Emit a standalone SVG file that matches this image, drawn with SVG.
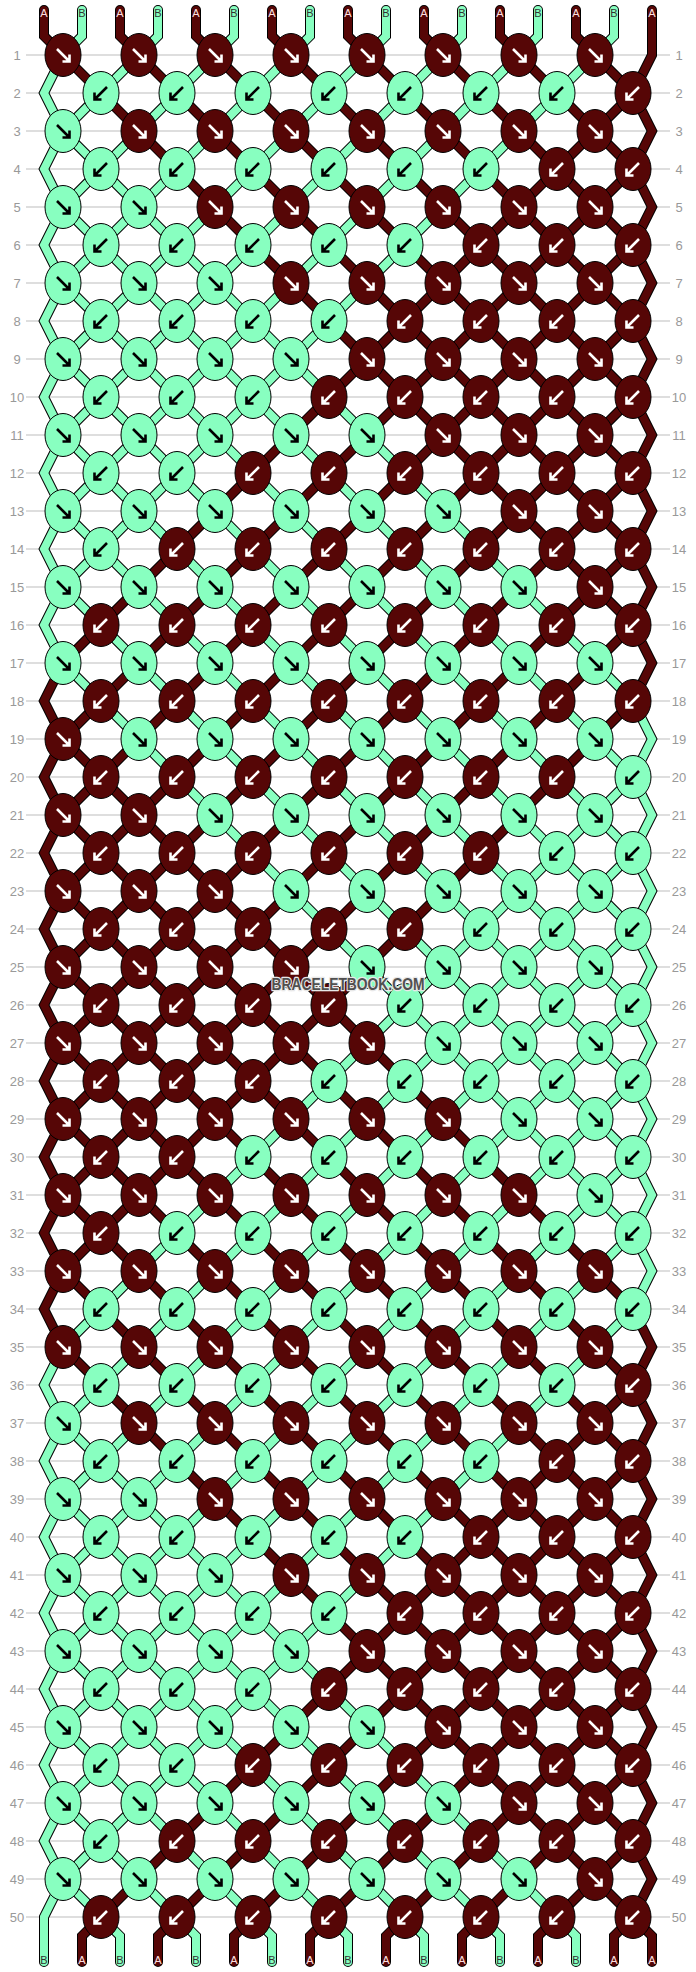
<svg xmlns="http://www.w3.org/2000/svg" xmlns:xlink="http://www.w3.org/1999/xlink" width="696" height="1972" viewBox="0 0 696 1972">
<style>
.o{fill:none;stroke:#000;stroke-width:10;stroke-linecap:round;stroke-linejoin:miter}
.a{fill:none;stroke:#560606;stroke-width:8;stroke-linecap:round;stroke-linejoin:miter}
.b{fill:none;stroke:#88ffc0;stroke-width:8;stroke-linecap:round;stroke-linejoin:miter}
.rl{font-family:"Liberation Sans",Arial,sans-serif;font-size:13px;fill:#999;text-anchor:middle}
.sl{font-family:"Liberation Sans",Arial,sans-serif;font-size:11px;text-anchor:middle}
.la{fill:#ffe0e0}
.lb{fill:#333}
.ar{fill:none;stroke-width:2.6;stroke-linecap:butt;stroke-linejoin:miter}
</style>
<defs>
<g id="fd"><ellipse rx="18" ry="21.5" fill="#560606" stroke="#000" stroke-width="1"/><path class="ar" stroke="#fff" d="M-6,-6L6,6M6.5,-0.5V6.5H-0.5"/></g>
<g id="fg"><ellipse rx="18" ry="21.5" fill="#88ffc0" stroke="#000" stroke-width="1"/><path class="ar" stroke="#000" d="M-6,-6L6,6M6.5,-0.5V6.5H-0.5"/></g>
<g id="bd"><ellipse rx="18" ry="21.5" fill="#560606" stroke="#000" stroke-width="1"/><path class="ar" stroke="#fff" d="M6,-6L-6,6M-6.5,-0.5V6.5H0.5"/></g>
<g id="bg"><ellipse rx="18" ry="21.5" fill="#88ffc0" stroke="#000" stroke-width="1"/><path class="ar" stroke="#000" d="M6,-6L-6,6M-6.5,-0.5V6.5H0.5"/></g>
</defs>
<rect width="696" height="1972" fill="#fff"/>
<g id="gridlines">
<path fill="none" stroke="#bdbdbd" stroke-width="1" d="M26,55H670M26,93H670M26,131H670M26,169H670M26,207H670M26,245H670M26,283H670M26,321H670M26,359H670M26,397H670M26,435H670M26,473H670M26,511H670M26,549H670M26,587H670M26,625H670M26,663H670M26,701H670M26,739H670M26,777H670M26,815H670M26,853H670M26,891H670M26,929H670M26,967H670M26,1005H670M26,1043H670M26,1081H670M26,1119H670M26,1157H670M26,1195H670M26,1233H670M26,1271H670M26,1309H670M26,1347H670M26,1385H670M26,1423H670M26,1461H670M26,1499H670M26,1537H670M26,1575H670M26,1613H670M26,1651H670M26,1689H670M26,1727H670M26,1765H670M26,1803H670M26,1841H670M26,1879H670M26,1917H670"/>
</g>
<g id="row-labels" class="rl">
<text x="17" y="59.5">1</text><text x="679" y="59.5">1</text>
<text x="17" y="97.5">2</text><text x="679" y="97.5">2</text>
<text x="17" y="135.5">3</text><text x="679" y="135.5">3</text>
<text x="17" y="173.5">4</text><text x="679" y="173.5">4</text>
<text x="17" y="211.5">5</text><text x="679" y="211.5">5</text>
<text x="17" y="249.5">6</text><text x="679" y="249.5">6</text>
<text x="17" y="287.5">7</text><text x="679" y="287.5">7</text>
<text x="17" y="325.5">8</text><text x="679" y="325.5">8</text>
<text x="17" y="363.5">9</text><text x="679" y="363.5">9</text>
<text x="17" y="401.5">10</text><text x="679" y="401.5">10</text>
<text x="17" y="439.5">11</text><text x="679" y="439.5">11</text>
<text x="17" y="477.5">12</text><text x="679" y="477.5">12</text>
<text x="17" y="515.5">13</text><text x="679" y="515.5">13</text>
<text x="17" y="553.5">14</text><text x="679" y="553.5">14</text>
<text x="17" y="591.5">15</text><text x="679" y="591.5">15</text>
<text x="17" y="629.5">16</text><text x="679" y="629.5">16</text>
<text x="17" y="667.5">17</text><text x="679" y="667.5">17</text>
<text x="17" y="705.5">18</text><text x="679" y="705.5">18</text>
<text x="17" y="743.5">19</text><text x="679" y="743.5">19</text>
<text x="17" y="781.5">20</text><text x="679" y="781.5">20</text>
<text x="17" y="819.5">21</text><text x="679" y="819.5">21</text>
<text x="17" y="857.5">22</text><text x="679" y="857.5">22</text>
<text x="17" y="895.5">23</text><text x="679" y="895.5">23</text>
<text x="17" y="933.5">24</text><text x="679" y="933.5">24</text>
<text x="17" y="971.5">25</text><text x="679" y="971.5">25</text>
<text x="17" y="1009.5">26</text><text x="679" y="1009.5">26</text>
<text x="17" y="1047.5">27</text><text x="679" y="1047.5">27</text>
<text x="17" y="1085.5">28</text><text x="679" y="1085.5">28</text>
<text x="17" y="1123.5">29</text><text x="679" y="1123.5">29</text>
<text x="17" y="1161.5">30</text><text x="679" y="1161.5">30</text>
<text x="17" y="1199.5">31</text><text x="679" y="1199.5">31</text>
<text x="17" y="1237.5">32</text><text x="679" y="1237.5">32</text>
<text x="17" y="1275.5">33</text><text x="679" y="1275.5">33</text>
<text x="17" y="1313.5">34</text><text x="679" y="1313.5">34</text>
<text x="17" y="1351.5">35</text><text x="679" y="1351.5">35</text>
<text x="17" y="1389.5">36</text><text x="679" y="1389.5">36</text>
<text x="17" y="1427.5">37</text><text x="679" y="1427.5">37</text>
<text x="17" y="1465.5">38</text><text x="679" y="1465.5">38</text>
<text x="17" y="1503.5">39</text><text x="679" y="1503.5">39</text>
<text x="17" y="1541.5">40</text><text x="679" y="1541.5">40</text>
<text x="17" y="1579.5">41</text><text x="679" y="1579.5">41</text>
<text x="17" y="1617.5">42</text><text x="679" y="1617.5">42</text>
<text x="17" y="1655.5">43</text><text x="679" y="1655.5">43</text>
<text x="17" y="1693.5">44</text><text x="679" y="1693.5">44</text>
<text x="17" y="1731.5">45</text><text x="679" y="1731.5">45</text>
<text x="17" y="1769.5">46</text><text x="679" y="1769.5">46</text>
<text x="17" y="1807.5">47</text><text x="679" y="1807.5">47</text>
<text x="17" y="1845.5">48</text><text x="679" y="1845.5">48</text>
<text x="17" y="1883.5">49</text><text x="679" y="1883.5">49</text>
<text x="17" y="1921.5">50</text><text x="679" y="1921.5">50</text>
</g>
<g id="connectors">
<g id="outlines" class="o">
<path d="M44,10V36L633,625L652,663L633,701L63,1271L44,1309L63,1347L633,1917L652,1936V1962"/>
<path d="M120,10V36L633,549L652,587L633,625L63,1195L44,1233L63,1271L633,1841L652,1879L633,1917L614,1936V1962"/>
<path d="M196,10V36L633,473L652,511L633,549L63,1119L44,1157L63,1195L633,1765L652,1803L633,1841L538,1936V1962"/>
<path d="M272,10V36L633,397L652,435L633,473L63,1043L44,1081L63,1119L633,1689L652,1727L633,1765L462,1936V1962"/>
<path d="M348,10V36L633,321L652,359L633,397L63,967L44,1005L63,1043L633,1613L652,1651L633,1689L386,1936V1962"/>
<path d="M424,10V36L633,245L652,283L633,321L63,891L44,929L63,967L633,1537L652,1575L633,1613L310,1936V1962"/>
<path d="M500,10V36L633,169L652,207L633,245L63,815L44,853L63,891L633,1461L652,1499L633,1537L234,1936V1962"/>
<path d="M576,10V36L633,93L652,131L633,169L63,739L44,777L63,815L633,1385L652,1423L633,1461L158,1936V1962"/>
<path d="M652,10V55L633,93L63,663L44,701L63,739L633,1309L652,1347L633,1385L82,1936V1962"/>
<path d="M614,10V36L63,587L44,625L63,663L633,1233L652,1271L633,1309L63,1879L44,1917V1962"/>
<path d="M538,10V36L63,511L44,549L63,587L633,1157L652,1195L633,1233L63,1803L44,1841L63,1879L120,1936V1962"/>
<path d="M462,10V36L63,435L44,473L63,511L633,1081L652,1119L633,1157L63,1727L44,1765L63,1803L196,1936V1962"/>
<path d="M386,10V36L63,359L44,397L63,435L633,1005L652,1043L633,1081L63,1651L44,1689L63,1727L272,1936V1962"/>
<path d="M310,10V36L63,283L44,321L63,359L633,929L652,967L633,1005L63,1575L44,1613L63,1651L348,1936V1962"/>
<path d="M234,10V36L63,207L44,245L63,283L633,853L652,891L633,929L63,1499L44,1537L63,1575L424,1936V1962"/>
<path d="M158,10V36L63,131L44,169L63,207L633,777L652,815L633,853L63,1423L44,1461L63,1499L500,1936V1962"/>
<path d="M82,10V36L63,55L44,93L63,131L633,701L652,739L633,777L63,1347L44,1385L63,1423L576,1936V1962"/>
</g>
<g id="strings-a" class="a">
<path d="M44,10V36L633,625L652,663L633,701L63,1271L44,1309L63,1347L633,1917L652,1936V1962"/>
<path d="M120,10V36L633,549L652,587L633,625L63,1195L44,1233L63,1271L633,1841L652,1879L633,1917L614,1936V1962"/>
<path d="M196,10V36L633,473L652,511L633,549L63,1119L44,1157L63,1195L633,1765L652,1803L633,1841L538,1936V1962"/>
<path d="M272,10V36L633,397L652,435L633,473L63,1043L44,1081L63,1119L633,1689L652,1727L633,1765L462,1936V1962"/>
<path d="M348,10V36L633,321L652,359L633,397L63,967L44,1005L63,1043L633,1613L652,1651L633,1689L386,1936V1962"/>
<path d="M424,10V36L633,245L652,283L633,321L63,891L44,929L63,967L633,1537L652,1575L633,1613L310,1936V1962"/>
<path d="M500,10V36L633,169L652,207L633,245L63,815L44,853L63,891L633,1461L652,1499L633,1537L234,1936V1962"/>
<path d="M576,10V36L633,93L652,131L633,169L63,739L44,777L63,815L633,1385L652,1423L633,1461L158,1936V1962"/>
<path d="M652,10V55L633,93L63,663L44,701L63,739L633,1309L652,1347L633,1385L82,1936V1962"/>
</g>
<g id="strings-b" class="b">
<path d="M614,10V36L63,587L44,625L63,663L633,1233L652,1271L633,1309L63,1879L44,1917V1962"/>
<path d="M538,10V36L63,511L44,549L63,587L633,1157L652,1195L633,1233L63,1803L44,1841L63,1879L120,1936V1962"/>
<path d="M462,10V36L63,435L44,473L63,511L633,1081L652,1119L633,1157L63,1727L44,1765L63,1803L196,1936V1962"/>
<path d="M386,10V36L63,359L44,397L63,435L633,1005L652,1043L633,1081L63,1651L44,1689L63,1727L272,1936V1962"/>
<path d="M310,10V36L63,283L44,321L63,359L633,929L652,967L633,1005L63,1575L44,1613L63,1651L348,1936V1962"/>
<path d="M234,10V36L63,207L44,245L63,283L633,853L652,891L633,929L63,1499L44,1537L63,1575L424,1936V1962"/>
<path d="M158,10V36L63,131L44,169L63,207L633,777L652,815L633,853L63,1423L44,1461L63,1499L500,1936V1962"/>
<path d="M82,10V36L63,55L44,93L63,131L633,701L652,739L633,777L63,1347L44,1385L63,1423L576,1936V1962"/>
</g>
</g>
<g id="string-labels" class="sl">
<text class="la" x="44" y="16.5">A</text><text class="lb" x="82" y="16.5">B</text><text class="la" x="120" y="16.5">A</text><text class="lb" x="158" y="16.5">B</text><text class="la" x="196" y="16.5">A</text><text class="lb" x="234" y="16.5">B</text><text class="la" x="272" y="16.5">A</text><text class="lb" x="310" y="16.5">B</text><text class="la" x="348" y="16.5">A</text><text class="lb" x="386" y="16.5">B</text><text class="la" x="424" y="16.5">A</text><text class="lb" x="462" y="16.5">B</text><text class="la" x="500" y="16.5">A</text><text class="lb" x="538" y="16.5">B</text><text class="la" x="576" y="16.5">A</text><text class="lb" x="614" y="16.5">B</text><text class="la" x="652" y="16.5">A</text>
<text class="lb" x="44" y="1964">B</text><text class="la" x="82" y="1964">A</text><text class="lb" x="120" y="1964">B</text><text class="la" x="158" y="1964">A</text><text class="lb" x="196" y="1964">B</text><text class="la" x="234" y="1964">A</text><text class="lb" x="272" y="1964">B</text><text class="la" x="310" y="1964">A</text><text class="lb" x="348" y="1964">B</text><text class="la" x="386" y="1964">A</text><text class="lb" x="424" y="1964">B</text><text class="la" x="462" y="1964">A</text><text class="lb" x="500" y="1964">B</text><text class="la" x="538" y="1964">A</text><text class="lb" x="576" y="1964">B</text><text class="la" x="614" y="1964">A</text><text class="la" x="652" y="1964">A</text>
</g>
<g id="knots">
<g id="k1_1"><use href="#fd" x="63" y="55"/></g><g id="k1_2"><use href="#fd" x="139" y="55"/></g><g id="k1_3"><use href="#fd" x="215" y="55"/></g><g id="k1_4"><use href="#fd" x="291" y="55"/></g><g id="k1_5"><use href="#fd" x="367" y="55"/></g><g id="k1_6"><use href="#fd" x="443" y="55"/></g><g id="k1_7"><use href="#fd" x="519" y="55"/></g><g id="k1_8"><use href="#fd" x="595" y="55"/></g>
<g id="k2_1"><use href="#bg" x="101" y="93"/></g><g id="k2_2"><use href="#bg" x="177" y="93"/></g><g id="k2_3"><use href="#bg" x="253" y="93"/></g><g id="k2_4"><use href="#bg" x="329" y="93"/></g><g id="k2_5"><use href="#bg" x="405" y="93"/></g><g id="k2_6"><use href="#bg" x="481" y="93"/></g><g id="k2_7"><use href="#bg" x="557" y="93"/></g><g id="k2_8"><use href="#bd" x="633" y="93"/></g>
<g id="k3_1"><use href="#fg" x="63" y="131"/></g><g id="k3_2"><use href="#fd" x="139" y="131"/></g><g id="k3_3"><use href="#fd" x="215" y="131"/></g><g id="k3_4"><use href="#fd" x="291" y="131"/></g><g id="k3_5"><use href="#fd" x="367" y="131"/></g><g id="k3_6"><use href="#fd" x="443" y="131"/></g><g id="k3_7"><use href="#fd" x="519" y="131"/></g><g id="k3_8"><use href="#fd" x="595" y="131"/></g>
<g id="k4_1"><use href="#bg" x="101" y="169"/></g><g id="k4_2"><use href="#bg" x="177" y="169"/></g><g id="k4_3"><use href="#bg" x="253" y="169"/></g><g id="k4_4"><use href="#bg" x="329" y="169"/></g><g id="k4_5"><use href="#bg" x="405" y="169"/></g><g id="k4_6"><use href="#bg" x="481" y="169"/></g><g id="k4_7"><use href="#bd" x="557" y="169"/></g><g id="k4_8"><use href="#bd" x="633" y="169"/></g>
<g id="k5_1"><use href="#fg" x="63" y="207"/></g><g id="k5_2"><use href="#fg" x="139" y="207"/></g><g id="k5_3"><use href="#fd" x="215" y="207"/></g><g id="k5_4"><use href="#fd" x="291" y="207"/></g><g id="k5_5"><use href="#fd" x="367" y="207"/></g><g id="k5_6"><use href="#fd" x="443" y="207"/></g><g id="k5_7"><use href="#fd" x="519" y="207"/></g><g id="k5_8"><use href="#fd" x="595" y="207"/></g>
<g id="k6_1"><use href="#bg" x="101" y="245"/></g><g id="k6_2"><use href="#bg" x="177" y="245"/></g><g id="k6_3"><use href="#bg" x="253" y="245"/></g><g id="k6_4"><use href="#bg" x="329" y="245"/></g><g id="k6_5"><use href="#bg" x="405" y="245"/></g><g id="k6_6"><use href="#bd" x="481" y="245"/></g><g id="k6_7"><use href="#bd" x="557" y="245"/></g><g id="k6_8"><use href="#bd" x="633" y="245"/></g>
<g id="k7_1"><use href="#fg" x="63" y="283"/></g><g id="k7_2"><use href="#fg" x="139" y="283"/></g><g id="k7_3"><use href="#fg" x="215" y="283"/></g><g id="k7_4"><use href="#fd" x="291" y="283"/></g><g id="k7_5"><use href="#fd" x="367" y="283"/></g><g id="k7_6"><use href="#fd" x="443" y="283"/></g><g id="k7_7"><use href="#fd" x="519" y="283"/></g><g id="k7_8"><use href="#fd" x="595" y="283"/></g>
<g id="k8_1"><use href="#bg" x="101" y="321"/></g><g id="k8_2"><use href="#bg" x="177" y="321"/></g><g id="k8_3"><use href="#bg" x="253" y="321"/></g><g id="k8_4"><use href="#bg" x="329" y="321"/></g><g id="k8_5"><use href="#bd" x="405" y="321"/></g><g id="k8_6"><use href="#bd" x="481" y="321"/></g><g id="k8_7"><use href="#bd" x="557" y="321"/></g><g id="k8_8"><use href="#bd" x="633" y="321"/></g>
<g id="k9_1"><use href="#fg" x="63" y="359"/></g><g id="k9_2"><use href="#fg" x="139" y="359"/></g><g id="k9_3"><use href="#fg" x="215" y="359"/></g><g id="k9_4"><use href="#fg" x="291" y="359"/></g><g id="k9_5"><use href="#fd" x="367" y="359"/></g><g id="k9_6"><use href="#fd" x="443" y="359"/></g><g id="k9_7"><use href="#fd" x="519" y="359"/></g><g id="k9_8"><use href="#fd" x="595" y="359"/></g>
<g id="k10_1"><use href="#bg" x="101" y="397"/></g><g id="k10_2"><use href="#bg" x="177" y="397"/></g><g id="k10_3"><use href="#bg" x="253" y="397"/></g><g id="k10_4"><use href="#bd" x="329" y="397"/></g><g id="k10_5"><use href="#bd" x="405" y="397"/></g><g id="k10_6"><use href="#bd" x="481" y="397"/></g><g id="k10_7"><use href="#bd" x="557" y="397"/></g><g id="k10_8"><use href="#bd" x="633" y="397"/></g>
<g id="k11_1"><use href="#fg" x="63" y="435"/></g><g id="k11_2"><use href="#fg" x="139" y="435"/></g><g id="k11_3"><use href="#fg" x="215" y="435"/></g><g id="k11_4"><use href="#fg" x="291" y="435"/></g><g id="k11_5"><use href="#fg" x="367" y="435"/></g><g id="k11_6"><use href="#fd" x="443" y="435"/></g><g id="k11_7"><use href="#fd" x="519" y="435"/></g><g id="k11_8"><use href="#fd" x="595" y="435"/></g>
<g id="k12_1"><use href="#bg" x="101" y="473"/></g><g id="k12_2"><use href="#bg" x="177" y="473"/></g><g id="k12_3"><use href="#bd" x="253" y="473"/></g><g id="k12_4"><use href="#bd" x="329" y="473"/></g><g id="k12_5"><use href="#bd" x="405" y="473"/></g><g id="k12_6"><use href="#bd" x="481" y="473"/></g><g id="k12_7"><use href="#bd" x="557" y="473"/></g><g id="k12_8"><use href="#bd" x="633" y="473"/></g>
<g id="k13_1"><use href="#fg" x="63" y="511"/></g><g id="k13_2"><use href="#fg" x="139" y="511"/></g><g id="k13_3"><use href="#fg" x="215" y="511"/></g><g id="k13_4"><use href="#fg" x="291" y="511"/></g><g id="k13_5"><use href="#fg" x="367" y="511"/></g><g id="k13_6"><use href="#fg" x="443" y="511"/></g><g id="k13_7"><use href="#fd" x="519" y="511"/></g><g id="k13_8"><use href="#fd" x="595" y="511"/></g>
<g id="k14_1"><use href="#bg" x="101" y="549"/></g><g id="k14_2"><use href="#bd" x="177" y="549"/></g><g id="k14_3"><use href="#bd" x="253" y="549"/></g><g id="k14_4"><use href="#bd" x="329" y="549"/></g><g id="k14_5"><use href="#bd" x="405" y="549"/></g><g id="k14_6"><use href="#bd" x="481" y="549"/></g><g id="k14_7"><use href="#bd" x="557" y="549"/></g><g id="k14_8"><use href="#bd" x="633" y="549"/></g>
<g id="k15_1"><use href="#fg" x="63" y="587"/></g><g id="k15_2"><use href="#fg" x="139" y="587"/></g><g id="k15_3"><use href="#fg" x="215" y="587"/></g><g id="k15_4"><use href="#fg" x="291" y="587"/></g><g id="k15_5"><use href="#fg" x="367" y="587"/></g><g id="k15_6"><use href="#fg" x="443" y="587"/></g><g id="k15_7"><use href="#fg" x="519" y="587"/></g><g id="k15_8"><use href="#fd" x="595" y="587"/></g>
<g id="k16_1"><use href="#bd" x="101" y="625"/></g><g id="k16_2"><use href="#bd" x="177" y="625"/></g><g id="k16_3"><use href="#bd" x="253" y="625"/></g><g id="k16_4"><use href="#bd" x="329" y="625"/></g><g id="k16_5"><use href="#bd" x="405" y="625"/></g><g id="k16_6"><use href="#bd" x="481" y="625"/></g><g id="k16_7"><use href="#bd" x="557" y="625"/></g><g id="k16_8"><use href="#bd" x="633" y="625"/></g>
<g id="k17_1"><use href="#fg" x="63" y="663"/></g><g id="k17_2"><use href="#fg" x="139" y="663"/></g><g id="k17_3"><use href="#fg" x="215" y="663"/></g><g id="k17_4"><use href="#fg" x="291" y="663"/></g><g id="k17_5"><use href="#fg" x="367" y="663"/></g><g id="k17_6"><use href="#fg" x="443" y="663"/></g><g id="k17_7"><use href="#fg" x="519" y="663"/></g><g id="k17_8"><use href="#fg" x="595" y="663"/></g>
<g id="k18_1"><use href="#bd" x="101" y="701"/></g><g id="k18_2"><use href="#bd" x="177" y="701"/></g><g id="k18_3"><use href="#bd" x="253" y="701"/></g><g id="k18_4"><use href="#bd" x="329" y="701"/></g><g id="k18_5"><use href="#bd" x="405" y="701"/></g><g id="k18_6"><use href="#bd" x="481" y="701"/></g><g id="k18_7"><use href="#bd" x="557" y="701"/></g><g id="k18_8"><use href="#bd" x="633" y="701"/></g>
<g id="k19_1"><use href="#fd" x="63" y="739"/></g><g id="k19_2"><use href="#fg" x="139" y="739"/></g><g id="k19_3"><use href="#fg" x="215" y="739"/></g><g id="k19_4"><use href="#fg" x="291" y="739"/></g><g id="k19_5"><use href="#fg" x="367" y="739"/></g><g id="k19_6"><use href="#fg" x="443" y="739"/></g><g id="k19_7"><use href="#fg" x="519" y="739"/></g><g id="k19_8"><use href="#fg" x="595" y="739"/></g>
<g id="k20_1"><use href="#bd" x="101" y="777"/></g><g id="k20_2"><use href="#bd" x="177" y="777"/></g><g id="k20_3"><use href="#bd" x="253" y="777"/></g><g id="k20_4"><use href="#bd" x="329" y="777"/></g><g id="k20_5"><use href="#bd" x="405" y="777"/></g><g id="k20_6"><use href="#bd" x="481" y="777"/></g><g id="k20_7"><use href="#bd" x="557" y="777"/></g><g id="k20_8"><use href="#bg" x="633" y="777"/></g>
<g id="k21_1"><use href="#fd" x="63" y="815"/></g><g id="k21_2"><use href="#fd" x="139" y="815"/></g><g id="k21_3"><use href="#fg" x="215" y="815"/></g><g id="k21_4"><use href="#fg" x="291" y="815"/></g><g id="k21_5"><use href="#fg" x="367" y="815"/></g><g id="k21_6"><use href="#fg" x="443" y="815"/></g><g id="k21_7"><use href="#fg" x="519" y="815"/></g><g id="k21_8"><use href="#fg" x="595" y="815"/></g>
<g id="k22_1"><use href="#bd" x="101" y="853"/></g><g id="k22_2"><use href="#bd" x="177" y="853"/></g><g id="k22_3"><use href="#bd" x="253" y="853"/></g><g id="k22_4"><use href="#bd" x="329" y="853"/></g><g id="k22_5"><use href="#bd" x="405" y="853"/></g><g id="k22_6"><use href="#bd" x="481" y="853"/></g><g id="k22_7"><use href="#bg" x="557" y="853"/></g><g id="k22_8"><use href="#bg" x="633" y="853"/></g>
<g id="k23_1"><use href="#fd" x="63" y="891"/></g><g id="k23_2"><use href="#fd" x="139" y="891"/></g><g id="k23_3"><use href="#fd" x="215" y="891"/></g><g id="k23_4"><use href="#fg" x="291" y="891"/></g><g id="k23_5"><use href="#fg" x="367" y="891"/></g><g id="k23_6"><use href="#fg" x="443" y="891"/></g><g id="k23_7"><use href="#fg" x="519" y="891"/></g><g id="k23_8"><use href="#fg" x="595" y="891"/></g>
<g id="k24_1"><use href="#bd" x="101" y="929"/></g><g id="k24_2"><use href="#bd" x="177" y="929"/></g><g id="k24_3"><use href="#bd" x="253" y="929"/></g><g id="k24_4"><use href="#bd" x="329" y="929"/></g><g id="k24_5"><use href="#bd" x="405" y="929"/></g><g id="k24_6"><use href="#bg" x="481" y="929"/></g><g id="k24_7"><use href="#bg" x="557" y="929"/></g><g id="k24_8"><use href="#bg" x="633" y="929"/></g>
<g id="k25_1"><use href="#fd" x="63" y="967"/></g><g id="k25_2"><use href="#fd" x="139" y="967"/></g><g id="k25_3"><use href="#fd" x="215" y="967"/></g><g id="k25_4"><use href="#fd" x="291" y="967"/></g><g id="k25_5"><use href="#fg" x="367" y="967"/></g><g id="k25_6"><use href="#fg" x="443" y="967"/></g><g id="k25_7"><use href="#fg" x="519" y="967"/></g><g id="k25_8"><use href="#fg" x="595" y="967"/></g>
<g id="k26_1"><use href="#bd" x="101" y="1005"/></g><g id="k26_2"><use href="#bd" x="177" y="1005"/></g><g id="k26_3"><use href="#bd" x="253" y="1005"/></g><g id="k26_4"><use href="#bd" x="329" y="1005"/></g><g id="k26_5"><use href="#bg" x="405" y="1005"/></g><g id="k26_6"><use href="#bg" x="481" y="1005"/></g><g id="k26_7"><use href="#bg" x="557" y="1005"/></g><g id="k26_8"><use href="#bg" x="633" y="1005"/></g>
<g id="k27_1"><use href="#fd" x="63" y="1043"/></g><g id="k27_2"><use href="#fd" x="139" y="1043"/></g><g id="k27_3"><use href="#fd" x="215" y="1043"/></g><g id="k27_4"><use href="#fd" x="291" y="1043"/></g><g id="k27_5"><use href="#fd" x="367" y="1043"/></g><g id="k27_6"><use href="#fg" x="443" y="1043"/></g><g id="k27_7"><use href="#fg" x="519" y="1043"/></g><g id="k27_8"><use href="#fg" x="595" y="1043"/></g>
<g id="k28_1"><use href="#bd" x="101" y="1081"/></g><g id="k28_2"><use href="#bd" x="177" y="1081"/></g><g id="k28_3"><use href="#bd" x="253" y="1081"/></g><g id="k28_4"><use href="#bg" x="329" y="1081"/></g><g id="k28_5"><use href="#bg" x="405" y="1081"/></g><g id="k28_6"><use href="#bg" x="481" y="1081"/></g><g id="k28_7"><use href="#bg" x="557" y="1081"/></g><g id="k28_8"><use href="#bg" x="633" y="1081"/></g>
<g id="k29_1"><use href="#fd" x="63" y="1119"/></g><g id="k29_2"><use href="#fd" x="139" y="1119"/></g><g id="k29_3"><use href="#fd" x="215" y="1119"/></g><g id="k29_4"><use href="#fd" x="291" y="1119"/></g><g id="k29_5"><use href="#fd" x="367" y="1119"/></g><g id="k29_6"><use href="#fd" x="443" y="1119"/></g><g id="k29_7"><use href="#fg" x="519" y="1119"/></g><g id="k29_8"><use href="#fg" x="595" y="1119"/></g>
<g id="k30_1"><use href="#bd" x="101" y="1157"/></g><g id="k30_2"><use href="#bd" x="177" y="1157"/></g><g id="k30_3"><use href="#bg" x="253" y="1157"/></g><g id="k30_4"><use href="#bg" x="329" y="1157"/></g><g id="k30_5"><use href="#bg" x="405" y="1157"/></g><g id="k30_6"><use href="#bg" x="481" y="1157"/></g><g id="k30_7"><use href="#bg" x="557" y="1157"/></g><g id="k30_8"><use href="#bg" x="633" y="1157"/></g>
<g id="k31_1"><use href="#fd" x="63" y="1195"/></g><g id="k31_2"><use href="#fd" x="139" y="1195"/></g><g id="k31_3"><use href="#fd" x="215" y="1195"/></g><g id="k31_4"><use href="#fd" x="291" y="1195"/></g><g id="k31_5"><use href="#fd" x="367" y="1195"/></g><g id="k31_6"><use href="#fd" x="443" y="1195"/></g><g id="k31_7"><use href="#fd" x="519" y="1195"/></g><g id="k31_8"><use href="#fg" x="595" y="1195"/></g>
<g id="k32_1"><use href="#bd" x="101" y="1233"/></g><g id="k32_2"><use href="#bg" x="177" y="1233"/></g><g id="k32_3"><use href="#bg" x="253" y="1233"/></g><g id="k32_4"><use href="#bg" x="329" y="1233"/></g><g id="k32_5"><use href="#bg" x="405" y="1233"/></g><g id="k32_6"><use href="#bg" x="481" y="1233"/></g><g id="k32_7"><use href="#bg" x="557" y="1233"/></g><g id="k32_8"><use href="#bg" x="633" y="1233"/></g>
<g id="k33_1"><use href="#fd" x="63" y="1271"/></g><g id="k33_2"><use href="#fd" x="139" y="1271"/></g><g id="k33_3"><use href="#fd" x="215" y="1271"/></g><g id="k33_4"><use href="#fd" x="291" y="1271"/></g><g id="k33_5"><use href="#fd" x="367" y="1271"/></g><g id="k33_6"><use href="#fd" x="443" y="1271"/></g><g id="k33_7"><use href="#fd" x="519" y="1271"/></g><g id="k33_8"><use href="#fd" x="595" y="1271"/></g>
<g id="k34_1"><use href="#bg" x="101" y="1309"/></g><g id="k34_2"><use href="#bg" x="177" y="1309"/></g><g id="k34_3"><use href="#bg" x="253" y="1309"/></g><g id="k34_4"><use href="#bg" x="329" y="1309"/></g><g id="k34_5"><use href="#bg" x="405" y="1309"/></g><g id="k34_6"><use href="#bg" x="481" y="1309"/></g><g id="k34_7"><use href="#bg" x="557" y="1309"/></g><g id="k34_8"><use href="#bg" x="633" y="1309"/></g>
<g id="k35_1"><use href="#fd" x="63" y="1347"/></g><g id="k35_2"><use href="#fd" x="139" y="1347"/></g><g id="k35_3"><use href="#fd" x="215" y="1347"/></g><g id="k35_4"><use href="#fd" x="291" y="1347"/></g><g id="k35_5"><use href="#fd" x="367" y="1347"/></g><g id="k35_6"><use href="#fd" x="443" y="1347"/></g><g id="k35_7"><use href="#fd" x="519" y="1347"/></g><g id="k35_8"><use href="#fd" x="595" y="1347"/></g>
<g id="k36_1"><use href="#bg" x="101" y="1385"/></g><g id="k36_2"><use href="#bg" x="177" y="1385"/></g><g id="k36_3"><use href="#bg" x="253" y="1385"/></g><g id="k36_4"><use href="#bg" x="329" y="1385"/></g><g id="k36_5"><use href="#bg" x="405" y="1385"/></g><g id="k36_6"><use href="#bg" x="481" y="1385"/></g><g id="k36_7"><use href="#bg" x="557" y="1385"/></g><g id="k36_8"><use href="#bd" x="633" y="1385"/></g>
<g id="k37_1"><use href="#fg" x="63" y="1423"/></g><g id="k37_2"><use href="#fd" x="139" y="1423"/></g><g id="k37_3"><use href="#fd" x="215" y="1423"/></g><g id="k37_4"><use href="#fd" x="291" y="1423"/></g><g id="k37_5"><use href="#fd" x="367" y="1423"/></g><g id="k37_6"><use href="#fd" x="443" y="1423"/></g><g id="k37_7"><use href="#fd" x="519" y="1423"/></g><g id="k37_8"><use href="#fd" x="595" y="1423"/></g>
<g id="k38_1"><use href="#bg" x="101" y="1461"/></g><g id="k38_2"><use href="#bg" x="177" y="1461"/></g><g id="k38_3"><use href="#bg" x="253" y="1461"/></g><g id="k38_4"><use href="#bg" x="329" y="1461"/></g><g id="k38_5"><use href="#bg" x="405" y="1461"/></g><g id="k38_6"><use href="#bg" x="481" y="1461"/></g><g id="k38_7"><use href="#bd" x="557" y="1461"/></g><g id="k38_8"><use href="#bd" x="633" y="1461"/></g>
<g id="k39_1"><use href="#fg" x="63" y="1499"/></g><g id="k39_2"><use href="#fg" x="139" y="1499"/></g><g id="k39_3"><use href="#fd" x="215" y="1499"/></g><g id="k39_4"><use href="#fd" x="291" y="1499"/></g><g id="k39_5"><use href="#fd" x="367" y="1499"/></g><g id="k39_6"><use href="#fd" x="443" y="1499"/></g><g id="k39_7"><use href="#fd" x="519" y="1499"/></g><g id="k39_8"><use href="#fd" x="595" y="1499"/></g>
<g id="k40_1"><use href="#bg" x="101" y="1537"/></g><g id="k40_2"><use href="#bg" x="177" y="1537"/></g><g id="k40_3"><use href="#bg" x="253" y="1537"/></g><g id="k40_4"><use href="#bg" x="329" y="1537"/></g><g id="k40_5"><use href="#bg" x="405" y="1537"/></g><g id="k40_6"><use href="#bd" x="481" y="1537"/></g><g id="k40_7"><use href="#bd" x="557" y="1537"/></g><g id="k40_8"><use href="#bd" x="633" y="1537"/></g>
<g id="k41_1"><use href="#fg" x="63" y="1575"/></g><g id="k41_2"><use href="#fg" x="139" y="1575"/></g><g id="k41_3"><use href="#fg" x="215" y="1575"/></g><g id="k41_4"><use href="#fd" x="291" y="1575"/></g><g id="k41_5"><use href="#fd" x="367" y="1575"/></g><g id="k41_6"><use href="#fd" x="443" y="1575"/></g><g id="k41_7"><use href="#fd" x="519" y="1575"/></g><g id="k41_8"><use href="#fd" x="595" y="1575"/></g>
<g id="k42_1"><use href="#bg" x="101" y="1613"/></g><g id="k42_2"><use href="#bg" x="177" y="1613"/></g><g id="k42_3"><use href="#bg" x="253" y="1613"/></g><g id="k42_4"><use href="#bg" x="329" y="1613"/></g><g id="k42_5"><use href="#bd" x="405" y="1613"/></g><g id="k42_6"><use href="#bd" x="481" y="1613"/></g><g id="k42_7"><use href="#bd" x="557" y="1613"/></g><g id="k42_8"><use href="#bd" x="633" y="1613"/></g>
<g id="k43_1"><use href="#fg" x="63" y="1651"/></g><g id="k43_2"><use href="#fg" x="139" y="1651"/></g><g id="k43_3"><use href="#fg" x="215" y="1651"/></g><g id="k43_4"><use href="#fg" x="291" y="1651"/></g><g id="k43_5"><use href="#fd" x="367" y="1651"/></g><g id="k43_6"><use href="#fd" x="443" y="1651"/></g><g id="k43_7"><use href="#fd" x="519" y="1651"/></g><g id="k43_8"><use href="#fd" x="595" y="1651"/></g>
<g id="k44_1"><use href="#bg" x="101" y="1689"/></g><g id="k44_2"><use href="#bg" x="177" y="1689"/></g><g id="k44_3"><use href="#bg" x="253" y="1689"/></g><g id="k44_4"><use href="#bd" x="329" y="1689"/></g><g id="k44_5"><use href="#bd" x="405" y="1689"/></g><g id="k44_6"><use href="#bd" x="481" y="1689"/></g><g id="k44_7"><use href="#bd" x="557" y="1689"/></g><g id="k44_8"><use href="#bd" x="633" y="1689"/></g>
<g id="k45_1"><use href="#fg" x="63" y="1727"/></g><g id="k45_2"><use href="#fg" x="139" y="1727"/></g><g id="k45_3"><use href="#fg" x="215" y="1727"/></g><g id="k45_4"><use href="#fg" x="291" y="1727"/></g><g id="k45_5"><use href="#fg" x="367" y="1727"/></g><g id="k45_6"><use href="#fd" x="443" y="1727"/></g><g id="k45_7"><use href="#fd" x="519" y="1727"/></g><g id="k45_8"><use href="#fd" x="595" y="1727"/></g>
<g id="k46_1"><use href="#bg" x="101" y="1765"/></g><g id="k46_2"><use href="#bg" x="177" y="1765"/></g><g id="k46_3"><use href="#bd" x="253" y="1765"/></g><g id="k46_4"><use href="#bd" x="329" y="1765"/></g><g id="k46_5"><use href="#bd" x="405" y="1765"/></g><g id="k46_6"><use href="#bd" x="481" y="1765"/></g><g id="k46_7"><use href="#bd" x="557" y="1765"/></g><g id="k46_8"><use href="#bd" x="633" y="1765"/></g>
<g id="k47_1"><use href="#fg" x="63" y="1803"/></g><g id="k47_2"><use href="#fg" x="139" y="1803"/></g><g id="k47_3"><use href="#fg" x="215" y="1803"/></g><g id="k47_4"><use href="#fg" x="291" y="1803"/></g><g id="k47_5"><use href="#fg" x="367" y="1803"/></g><g id="k47_6"><use href="#fg" x="443" y="1803"/></g><g id="k47_7"><use href="#fd" x="519" y="1803"/></g><g id="k47_8"><use href="#fd" x="595" y="1803"/></g>
<g id="k48_1"><use href="#bg" x="101" y="1841"/></g><g id="k48_2"><use href="#bd" x="177" y="1841"/></g><g id="k48_3"><use href="#bd" x="253" y="1841"/></g><g id="k48_4"><use href="#bd" x="329" y="1841"/></g><g id="k48_5"><use href="#bd" x="405" y="1841"/></g><g id="k48_6"><use href="#bd" x="481" y="1841"/></g><g id="k48_7"><use href="#bd" x="557" y="1841"/></g><g id="k48_8"><use href="#bd" x="633" y="1841"/></g>
<g id="k49_1"><use href="#fg" x="63" y="1879"/></g><g id="k49_2"><use href="#fg" x="139" y="1879"/></g><g id="k49_3"><use href="#fg" x="215" y="1879"/></g><g id="k49_4"><use href="#fg" x="291" y="1879"/></g><g id="k49_5"><use href="#fg" x="367" y="1879"/></g><g id="k49_6"><use href="#fg" x="443" y="1879"/></g><g id="k49_7"><use href="#fg" x="519" y="1879"/></g><g id="k49_8"><use href="#fd" x="595" y="1879"/></g>
<g id="k50_1"><use href="#bd" x="101" y="1917"/></g><g id="k50_2"><use href="#bd" x="177" y="1917"/></g><g id="k50_3"><use href="#bd" x="253" y="1917"/></g><g id="k50_4"><use href="#bd" x="329" y="1917"/></g><g id="k50_5"><use href="#bd" x="405" y="1917"/></g><g id="k50_6"><use href="#bd" x="481" y="1917"/></g><g id="k50_7"><use href="#bd" x="557" y="1917"/></g><g id="k50_8"><use href="#bd" x="633" y="1917"/></g>
</g>
<g id="watermark">
<text x="348" y="990" text-anchor="middle" textLength="153" lengthAdjust="spacingAndGlyphs" font-family="'Liberation Sans',Arial,sans-serif" font-weight="bold" font-size="16" fill="#505050" stroke="#e8e8e8" stroke-width="2.5" paint-order="stroke" stroke-linejoin="round">BRACELETBOOK.COM</text>
</g>
</svg>
